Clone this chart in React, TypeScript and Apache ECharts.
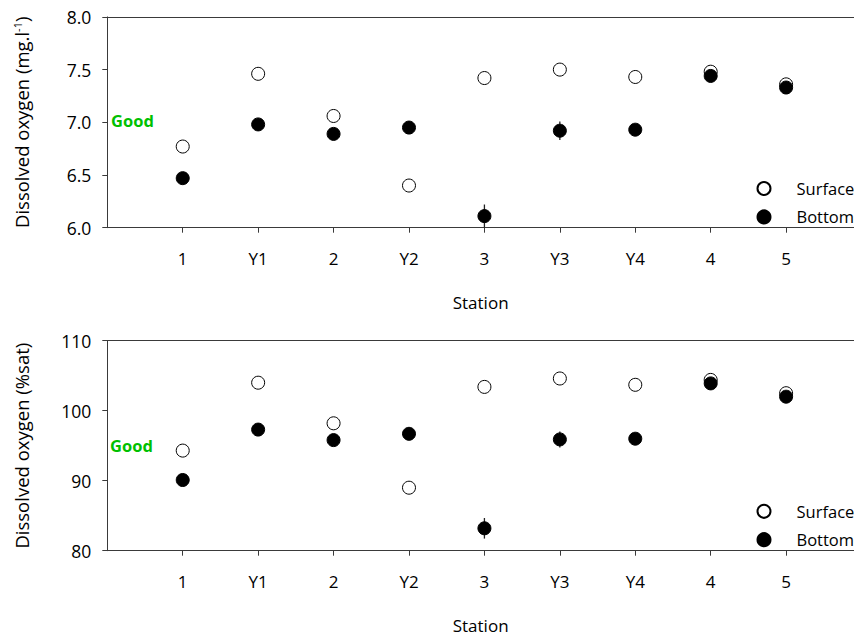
import React, { useEffect, useRef } from "react";
import * as echarts from "echarts";

const stations = ["1", "Y1", "2", "Y2", "3", "Y3", "Y4", "4", "5"];
const mgSurface = [6.77, 7.46, 7.06, 6.4, 7.42, 7.5, 7.43, 7.48, 7.36];
const mgBottom = [6.47, 6.98, 6.89, 6.95, 6.11, 6.92, 6.93, 7.44, 7.33];
const mgBottomErr = [0, 0, 0, 0, 0.11, 0.087, 0, 0, 0];
const satSurface = [94.3, 104.0, 98.2, 89.0, 103.4, 104.6, 103.7, 104.4, 102.5];
const satBottom = [90.1, 97.3, 95.8, 96.7, 83.2, 95.9, 96.0, 103.9, 102.0];
const satBottomErr = [0, 0, 0, 0, 1.47, 1.14, 0, 0, 0];
const mgTicks = [6.0, 6.5, 7.0, 7.5, 8.0];
const satTicks = [80, 90, 100, 110];

const FONT = "'Open Sans', 'Noto Sans', sans-serif";
const AXIS_COLOR = "#3a3a3a";
const stationPositions = stations.map((_, i) => i + 1);

function pts(vals: number[]) {
  return vals.map((v, i) => [i + 1, v]);
}
function errPts(vals: number[], errs: number[]) {
  return vals.map((v, i) => [i + 1, v, errs[i]]).filter((d) => d[2] > 0);
}

function xAxes(gridIndex: number) {
  return [
    {
      type: "value",
      gridIndex,
      position: "bottom",
      min: 0,
      max: 9.9,
      interval: 1,
      name: "Station",
      nameLocation: "middle",
      nameGap: 66,
      nameTextStyle: { fontFamily: FONT, fontSize: 17, color: "#000" },
      axisLine: { show: true, onZero: false, lineStyle: { color: AXIS_COLOR, width: 1 } },
      axisTick: {
        show: true,
        length: 5,
        customValues: stationPositions,
        lineStyle: { color: AXIS_COLOR },
      },
      axisLabel: {
        show: true,
        customValues: stationPositions,
        margin: 22,
        fontFamily: FONT,
        fontSize: 17,
        color: "#000",
        formatter: (v: number) => stations[Math.round(v) - 1] ?? "",
      },
      splitLine: { show: false },
    },
    {
      type: "value",
      gridIndex,
      position: "top",
      min: 0,
      max: 9.9,
      interval: 1,
      axisLine: { show: true, onZero: false, lineStyle: { color: AXIS_COLOR, width: 1 } },
      axisTick: { show: false },
      axisLabel: { show: false },
      splitLine: { show: false },
    },
  ];
}

function yAxis(gridIndex: number, min: number, max: number, interval: number, ticks: number[], name: string, digits: number) {
  return {
    type: "value",
    gridIndex,
    min,
    max,
    interval,
    name,
    nameLocation: "middle",
    nameGap: 76,
    nameTextStyle: {
      fontFamily: FONT,
      fontSize: 18.5,
      color: "#000",
      rich: {
        a: { fontFamily: FONT, fontSize: 18.5, color: "#000" },
        s: { fontFamily: FONT, fontSize: 11, color: "#000", verticalAlign: "top", padding: [0, 0, 8, 0] },
      },
    },
    axisLine: { show: true, onZero: false, lineStyle: { color: AXIS_COLOR, width: 1 } },
    axisTick: { show: true, length: 5, customValues: ticks, lineStyle: { color: AXIS_COLOR } },
    axisLabel: {
      show: true,
      customValues: ticks,
      margin: 16,
      fontFamily: FONT,
      fontSize: 17.5,
      color: "#000",
      formatter: (v: number) => v.toFixed(digits),
    },
    splitLine: { show: false },
  };
}

function errorSeries(xAxisIndex: number, yAxisIndex: number, data: number[][]) {
  return {
    type: "custom",
    xAxisIndex,
    yAxisIndex,
    z: 1,
    silent: true,
    data,
    renderItem: (params: any, api: any) => {
      const x = api.value(0);
      const y = api.value(1);
      const e = api.value(2);
      const p1 = api.coord([x, y + e]);
      const p2 = api.coord([x, y - e]);
      return {
        type: "line",
        shape: { x1: p1[0], y1: p1[1], x2: p2[0], y2: p2[1] },
        style: { stroke: "#222", lineWidth: 1.3 },
      };
    },
  };
}

const surfaceStyle = { color: "#ffffff", borderColor: "#000000", borderWidth: 1, opacity: 1 };
const bottomStyle = { color: "#000000", borderColor: "#000000", borderWidth: 1, opacity: 1 };

function legend(top: number) {
  return {
    orient: "vertical",
    left: 756.5,
    top,
    padding: 0,
    itemWidth: 13,
    itemHeight: 13,
    itemGap: 11.4,
    icon: "circle",
    selectedMode: false,
    data: ["Surface", "Bottom"],
    textStyle: { fontFamily: FONT, fontSize: 16.5, color: "#000", padding: [0, 0, 0, 21] },
  };
}

export default function App() {
  const ref = useRef<HTMLDivElement>(null);
  useEffect(() => {
    if (!ref.current) return;
    const chart = echarts.init(ref.current, null, { renderer: "svg" });
    const option: any = {
      animation: false,
      backgroundColor: "#ffffff",
      grid: [
        { left: 107.3, right: 0, top: 16.9, height: 210.8, outerBoundsMode: "none", containLabel: false },
        { left: 107.3, right: 0, top: 340.7, height: 210, outerBoundsMode: "none", containLabel: false },
      ],
      xAxis: [...xAxes(0), ...xAxes(1)],
      yAxis: [
        yAxis(0, 6, 8, 0.5, mgTicks, "{a|Dissolved oxygen (mg.l}{s|-1}{a|)}", 1),
        yAxis(1, 80, 110, 10, satTicks, "{a|Dissolved oxygen (%sat)}", 0),
      ],
      legend: [legend(180), legend(502.8)],
      graphic: [
        {
          type: "text",
          left: 111,
          top: 112,
          style: { text: "Good", fill: "#00c000", fontFamily: FONT, fontWeight: "bold", fontSize: 16.5 },
        },
        {
          type: "text",
          left: 110,
          top: 437,
          style: { text: "Good", fill: "#00c000", fontFamily: FONT, fontWeight: "bold", fontSize: 16.5 },
        },
      ],
      series: [
        errorSeries(0, 0, errPts(mgBottom, mgBottomErr)),
        errorSeries(2, 1, errPts(satBottom, satBottomErr)),
        {
          name: "Surface",
          type: "scatter",
          xAxisIndex: 0,
          yAxisIndex: 0,
          symbol: "circle",
          symbolSize: 13,
          z: 2,
          itemStyle: surfaceStyle,
          data: pts(mgSurface),
        },
        {
          name: "Bottom",
          type: "scatter",
          xAxisIndex: 0,
          yAxisIndex: 0,
          symbol: "circle",
          symbolSize: 13,
          z: 3,
          itemStyle: bottomStyle,
          data: pts(mgBottom),
        },
        {
          name: "Surface",
          type: "scatter",
          xAxisIndex: 2,
          yAxisIndex: 1,
          symbol: "circle",
          symbolSize: 13,
          z: 2,
          itemStyle: surfaceStyle,
          data: pts(satSurface),
        },
        {
          name: "Bottom",
          type: "scatter",
          xAxisIndex: 2,
          yAxisIndex: 1,
          symbol: "circle",
          symbolSize: 13,
          z: 3,
          itemStyle: bottomStyle,
          data: pts(satBottom),
        },
      ],
    };
    chart.setOption(option);
    return () => chart.dispose();
  }, []);
  return (
    <div
      ref={ref}
      style={{ position: "absolute", left: 0, top: 0, width: 854, height: 637, background: "#fff" }}
    />
  );
}
